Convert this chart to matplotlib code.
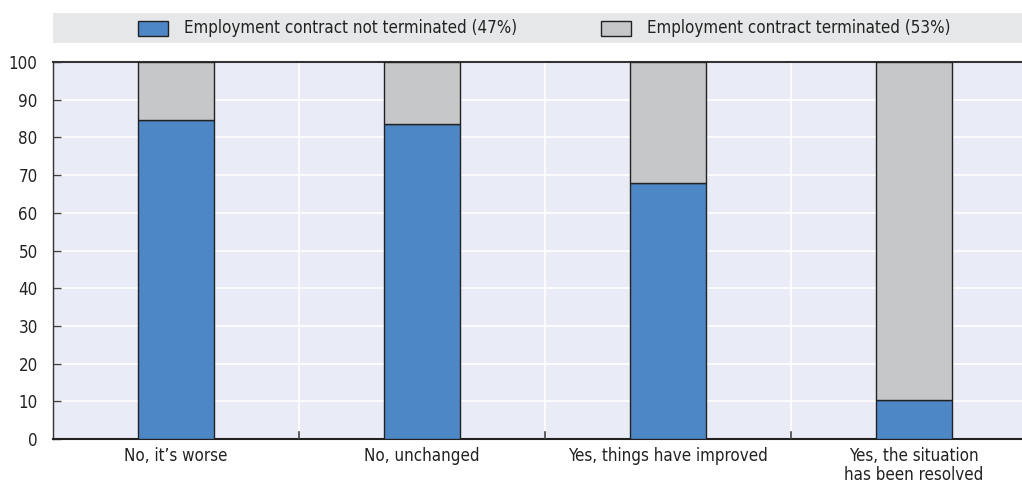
import matplotlib
matplotlib.use("Agg")
from matplotlib import pyplot as plt
import numpy as np

categories = ["No, it\u2019s worse", "No, unchanged", "Yes, things have improved",
              "Yes, the situation\nhas been resolved"]
not_terminated = [84.6, 83.5, 67.9, 10.4]
terminated = [100 - v for v in not_terminated]
legend_labels = ["Employment contract not terminated (47%)", "Employment contract terminated (53%)"]
yticks = list(range(0, 101, 10))

plt.rcParams['font.family'] = ['DejaVu Sans']
plt.rcParams['font.stretch'] = 'condensed'
plt.rcParams['font.size'] = 12.2

fig = plt.figure(figsize=(10.22, 4.92), dpi=100)
# axes runs past the right edge of the figure (cropped like the original)
ax = fig.add_axes([53/1022, 1 - 439/492, 984/1022, (439-62)/492])
ax.set_facecolor("#e9ecf6")

x = np.arange(len(categories))
blue = "#4e87c6"
grey = "#c6c7c9"
ax.bar(x, not_terminated, width=0.31, color=blue, edgecolor="#222222", linewidth=1, zorder=3)
ax.bar(x, terminated, width=0.31, bottom=not_terminated, color=grey, edgecolor="#222222", linewidth=1, zorder=3)

ax.set_xlim(-0.5, len(categories) - 0.5)
ax.set_ylim(0, 100)
ax.set_yticks(yticks)
ax.set_yticklabels([str(v) for v in yticks], color="#222222")
ax.set_xticks(x)
ax.set_xticklabels(categories, color="#222222", linespacing=1.05)
ax.tick_params(axis='x', length=0, pad=6)
ax.tick_params(axis='y', direction='in', length=6, width=1, color="#444444", pad=11)

for v in yticks[1:-1]:
    ax.axhline(v, color="white", linewidth=1.2, zorder=1)
for s in x[:-1] + 0.5:
    ax.axvline(s, color="white", linewidth=1.2, zorder=1)
    ax.plot([s, s], [0, 1.8], color="#444444", linewidth=1.2, zorder=4)

ax.spines["right"].set_visible(False)
ax.spines["top"].set_color("#333333")
ax.spines["top"].set_linewidth(1.5)
ax.spines["left"].set_color("#333333")
ax.spines["bottom"].set_color("#222222")
ax.spines["bottom"].set_linewidth(1.5)
ax.spines["left"].set_linewidth(1)

# legend band
band = fig.add_axes([53/1022, 1 - 43/492, 1 - 53/1022, 30/492])
band.set_facecolor("#e6e7e8")
band.set_xticks([])
band.set_yticks([])
for s in band.spines.values():
    s.set_visible(False)
band.set_xlim(0, 969)
band.set_ylim(0, 30)
for px, col, lab in [(85, blue, legend_labels[0]), (548, grey, legend_labels[1])]:
    band.add_patch(plt.Rectangle((px, 7), 30, 15, facecolor=col, edgecolor="#222222", linewidth=1))
    band.text(px + 46, 15, lab, va="center", ha="left", fontsize=12.2, color="#222222")

fig.savefig("out.png", dpi=100)
